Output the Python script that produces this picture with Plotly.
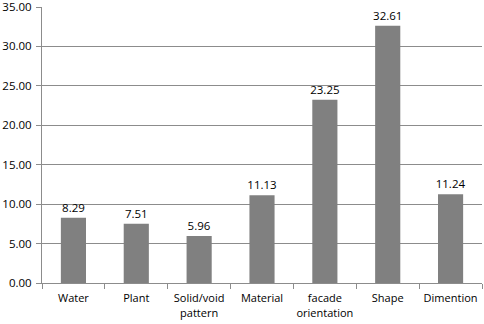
import plotly.graph_objects as go

categories = ["Water", "Plant", "Solid/void<br>pattern", "Material", "facade<br>orientation", "Shape", "Dimention"]
values = [8.29, 7.51, 5.96, 11.13, 23.25, 32.61, 11.24]
y_ticks = [0, 5, 10, 15, 20, 25, 30, 35]

fig = go.Figure(go.Bar(
    x=categories, y=values,
    marker=dict(color="#808080", line=dict(width=0)),
    width=0.4,
    text=[f"{v:.2f}" for v in values],
    textposition="outside",
    textfont=dict(color="#000000", size=11.5),
    constraintext="none",
    cliponaxis=False,
    hoverinfo="skip",
))

fig.update_layout(
    width=484, height=324,
    margin=dict(l=42, r=2, t=7, b=41),
    paper_bgcolor="white", plot_bgcolor="white",
    font=dict(family="Open Sans, Noto Sans, sans-serif", size=11, color="#000000"),
    showlegend=False,
)
fig.update_yaxes(
    range=[0, 35], tickvals=y_ticks, tickformat=".2f",
    showgrid=True, gridcolor="#8c8c8c", gridwidth=1,
    showline=True, linecolor="#8c8c8c", linewidth=1,
    ticks="outside", ticklen=5, tickcolor="#8c8c8c",
    zeroline=False, tickfont=dict(size=11.5), automargin=False,
    ticklabeloverflow="allow", ticklabelstandoff=2,
)
fig.update_xaxes(
    showline=True, linecolor="#8c8c8c", linewidth=1,
    ticks="outside", ticklen=5, tickcolor="#8c8c8c",
    tickson="boundaries", showgrid=False, tickfont=dict(size=11),
    tickangle=0, automargin=False, ticklabelstandoff=5,
    ticklabeloverflow="allow",
)

fig.write_html("out.html", config={"displayModeBar": False},
               post_script="document.body.style.margin='0';document.body.style.padding='0';")
